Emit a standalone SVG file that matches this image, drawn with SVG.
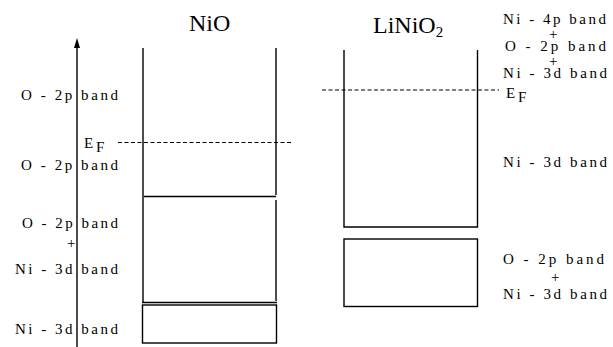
<svg xmlns="http://www.w3.org/2000/svg" width="613" height="347" viewBox="0 0 613 347">
<style>
.l{font-family:"Liberation Serif",serif;font-size:15px;fill:#000}
.p{font-family:"Liberation Serif",serif;font-size:15px;fill:#000}
.t{font-family:"Liberation Serif",serif;font-size:24px;fill:#000}
.s{stroke:#000;stroke-width:1.4;fill:none}
.d{stroke:#000;stroke-width:1.2;stroke-dasharray:4,2.5;fill:none}
</style>
<g id="titles">
<text class="t" x="189" y="31">NiO</text>
<text class="t" x="373" y="33">LiNiO<tspan font-size="15" dy="4">2</tspan></text>
</g>
<g id="axis">
<line class="s" x1="77" y1="347" x2="77" y2="46"/>
<path d="M77,38 L80,48 L74,48 Z" fill="#000"/>
</g>
<g id="nio">
<path class="s" d="M143,48 V302"/>
<path class="s" d="M276,48 V195 M276,200 V301"/>
<path class="s" d="M144,196.5 H276"/>
<path class="s" d="M142,302.5 H277"/>
<rect class="s" x="142.5" y="305" width="134" height="38"/>
<path class="d" d="M118,142.5 H292"/>
</g>
<g id="linio2">
<path class="s" d="M344,50 V227 H477.5 V50"/>
<rect class="s" x="344" y="239" width="133.5" height="67.5"/>
<path class="d" d="M322,90 H499"/>
</g>
<g id="left-labels">
<text class="l" x="21" y="100" textLength="97" lengthAdjust="spacing">O - 2p band</text>
<text class="l" x="84" y="148">E</text><text class="l" x="96" y="152" font-size="12">F</text>
<text class="l" x="21" y="170" textLength="97" lengthAdjust="spacing">O - 2p band</text>
<text class="l" x="22" y="228" textLength="96" lengthAdjust="spacing">O - 2p band</text>
<text class="p" x="67" y="248">+</text>
<text class="l" x="15" y="274" textLength="103" lengthAdjust="spacing">Ni - 3d band</text>
<text class="l" x="15" y="334" textLength="103" lengthAdjust="spacing">Ni - 3d band</text>
</g>
<g id="right-labels">
<text class="l" x="503" y="24" textLength="103" lengthAdjust="spacing">Ni - 4p band</text>
<text class="p" x="549" y="39">+</text>
<text class="l" x="505" y="51" textLength="101" lengthAdjust="spacing">O - 2p band</text>
<text class="p" x="549" y="66">+</text>
<text class="l" x="503" y="78" textLength="104" lengthAdjust="spacing">Ni - 3d band</text>
<text class="l" x="506" y="98">E</text><text class="l" x="518" y="102" font-size="12">F</text>
<text class="l" x="503" y="167" textLength="104" lengthAdjust="spacing">Ni - 3d band</text>
<text class="l" x="503" y="264" textLength="101" lengthAdjust="spacing">O - 2p band</text>
<text class="p" x="551" y="282">+</text>
<text class="l" x="503" y="299" textLength="104" lengthAdjust="spacing">Ni - 3d band</text>
</g>
</svg>
